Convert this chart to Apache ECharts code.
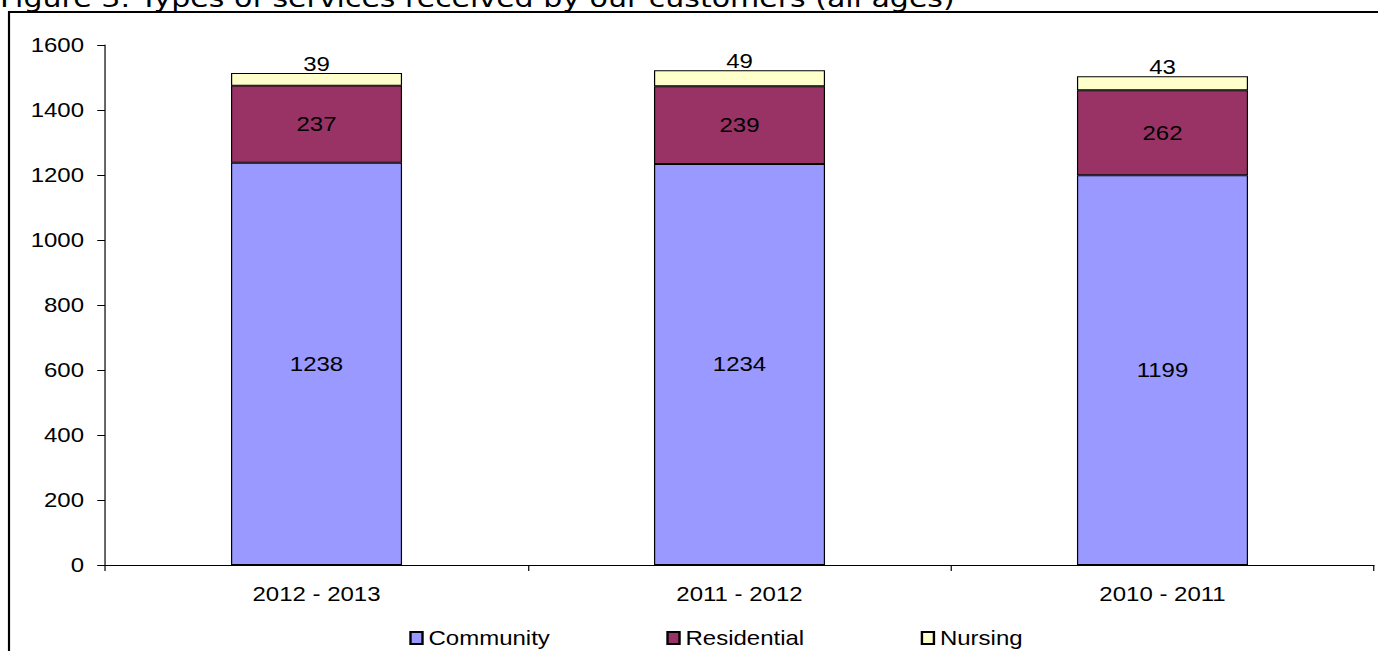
<!DOCTYPE html>
<html>
<head>
<meta charset="utf-8">
<script src="https://cdn.jsdelivr.net/npm/echarts@6/dist/echarts.min.js"></script>
<style>
  html, body { margin: 0; padding: 0; background: #fff; overflow: hidden; }
  /* the source picture is an Excel chart stretched sideways, so we draw it
     narrower and stretch it the same way */
  #chart {
    width: 1148px;
    height: 651px;
    transform: scaleX(1.2003);
    transform-origin: 0 0;
  }
</style>
</head>
<body>
<div id="chart"></div>
<script>
// periods, oldest on the right like the source
const periods = ['2012 - 2013', '2011 - 2012', '2010 - 2011']
const community = [1238, 1234, 1199]
const residential = [237, 239, 262]
const nursing = [39, 49, 43]
const yTicks = [0, 200, 400, 600, 800, 1000, 1200, 1400, 1600]

const titleText = 'Figure 3: Types of services received by our customers (all ages)'
const font = 'Liberation Sans, Arial, sans-serif'

const chart = echarts.init(document.getElementById('chart'), null, { renderer: 'svg' })

const barStyle = (color) => ({
  color: color,
  borderColor: '#000',
  borderWidth: 1
})

const labelStyle = { show: true, fontSize: 20, color: '#000', fontFamily: font }

const option = {
  animation: false,
  backgroundColor: '#fff',
  textStyle: { fontFamily: font, color: '#000' },
  graphic: [
    {
      type: 'rect',
      shape: { x: 7.5, y: 12, width: 1200, height: 700 },
      style: { fill: 'none', stroke: '#000', lineWidth: 1.8 },
      silent: true
    },
    {
      type: 'text',
      x: 0,
      y: 11,
      style: {
        text: titleText,
        font: '25px "DejaVu Sans", Verdana, sans-serif',
        fill: '#000',
        verticalAlign: 'bottom'
      },
      silent: true
    }
  ],
  legend: {
    data: ['Community', 'Residential', 'Nursing'],
    left: 336,
    top: 623,
    icon: 'rect',
    itemWidth: 10,
    itemHeight: 12,
    itemGap: 97,
    textStyle: { fontFamily: font, fontSize: 20, color: '#000' }
  },
  grid: {
    left: 87.5,
    right: 3.3,
    top: 45,
    bottom: 86
  },
  xAxis: {
    type: 'category',
    data: periods,
    axisLine: { lineStyle: { color: '#000', width: 1 } },
    axisTick: { show: true, alignWithLabel: false, length: 6, lineStyle: { color: '#000' } },
    axisLabel: { fontFamily: font, fontSize: 20, color: '#000', margin: 19 }
  },
  yAxis: {
    type: 'value',
    min: yTicks[0],
    max: yTicks[yTicks.length - 1],
    interval: yTicks[1] - yTicks[0],
    splitLine: { show: false },
    axisLine: { show: true, lineStyle: { color: '#000', width: 1 } },
    axisTick: { show: true, length: 6.5, lineStyle: { color: '#000' } },
    axisLabel: {
      fontFamily: font,
      fontSize: 20,
      color: '#000',
      margin: 17.5,
      formatter: (v) => String(v)
    }
  },
  series: [
    {
      name: 'Community',
      type: 'bar',
      stack: 'total',
      barWidth: 142.5,
      data: community,
      itemStyle: barStyle('#9999FF'),
      label: Object.assign({ position: 'inside' }, labelStyle)
    },
    {
      name: 'Residential',
      type: 'bar',
      stack: 'total',
      data: residential,
      itemStyle: barStyle('#993366'),
      label: Object.assign({ position: 'inside' }, labelStyle)
    },
    {
      name: 'Nursing',
      type: 'bar',
      stack: 'total',
      data: nursing,
      itemStyle: barStyle('#FFFFCC'),
      label: Object.assign({ position: 'top', distance: -1 }, labelStyle)
    }
  ]
}

chart.setOption(option)
</script>
</body>
</html>
